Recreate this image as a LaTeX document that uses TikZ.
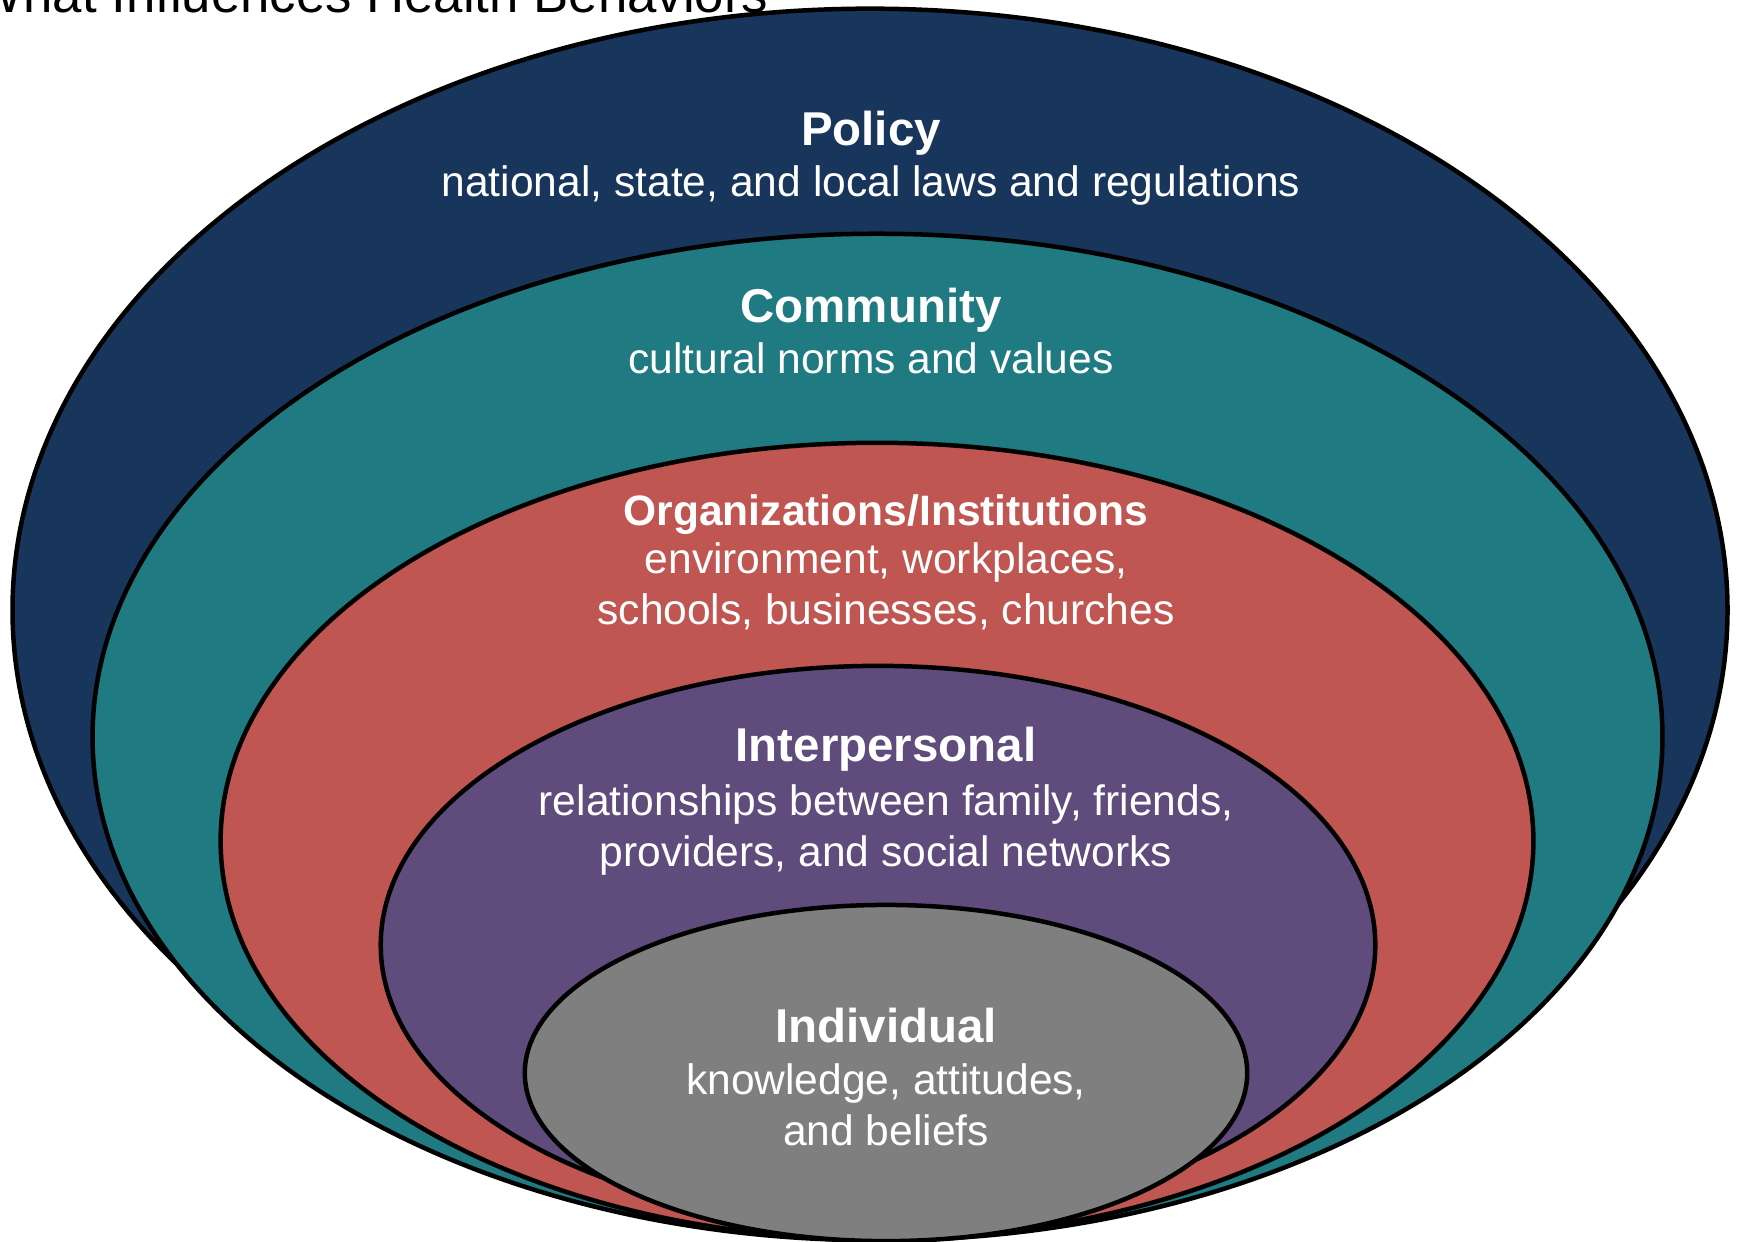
\documentclass[tikz,border=0pt]{standalone}
\usepackage{fontspec}
\setmainfont{Liberation Sans}
\usepackage{tikz}
\usetikzlibrary{shapes.geometric}

\definecolor{policyblue}{HTML}{18365C}
\definecolor{communityteal}{HTML}{207A82}
\definecolor{orgred}{HTML}{C05652}
\definecolor{interpurple}{HTML}{5F4B7C}
\definecolor{indivgray}{HTML}{7F7F7F}

\begin{document}
\begin{tikzpicture}[
  x=0.01cm, y=-0.01cm,
  ring/.style={
    ellipse, draw=black, line width=0.45mm,
    inner sep=0pt, outer sep=0pt
  },
  head/.style={
    anchor=base, text=white, inner sep=0pt,
    font=\fontsize{13.5}{16}\selectfont\bfseries
  },
  orghead/.style={head, font=\fontsize{12.1}{14.2}\selectfont\bfseries},
  body/.style={
    anchor=base, text=white, inner sep=0pt, align=center,
    font=\fontsize{12.1}{14.5}\selectfont
  },
]
\path[use as bounding box, clip] (0,0) rectangle (1737,1241);

% --- Title ---
\node[anchor=base west, inner sep=0pt, font=\fontsize{15}{18}\selectfont] (title) at (-27,12) {What Influences Health Behaviors};

% --- Rings, outside in ---
\node[ring, fill=policyblue, minimum width=17.14cm, minimum height=12.02cm] (policy) at (870,610) {};
\node[ring, fill=communityteal, minimum width=15.69cm, minimum height=10.06cm] (community) at (877.5,737) {};
\node[ring, fill=orgred, minimum width=13.12cm, minimum height=7.96cm] (org) at (877,841) {};
\node[ring, fill=interpurple, minimum width=9.94cm, minimum height=5.58cm] (inter) at (878,945) {};
\node[ring, fill=indivgray, minimum width=7.22cm, minimum height=3.36cm] (indiv) at (886,1073) {};

% --- Labels (body anchored on its last line) ---
\node[head] (policyhead) at (871,145) {Policy};
\node[body] (policytext) at (871,196) {national, state, and local laws and regulations};

\node[head] (communityhead) at (871,322) {Community};
\node[body] (communitytext) at (871,373) {cultural norms and values};

\node[orghead] (orghead) at (886,525) {Organizations/Institutions};
\node[body] (orgtext) at (886,624) {environment, workplaces,\\ schools, businesses, churches};

\node[head] (interhead) at (886,761) {Interpersonal};
\node[body] (intertext) at (886,866) {relationships between family, friends,\\ providers, and social networks};

\node[head] (indivhead) at (886,1042) {Individual};
\node[body] (indivtext) at (886,1145) {knowledge, attitudes,\\ and beliefs};

\end{tikzpicture}
\end{document}
